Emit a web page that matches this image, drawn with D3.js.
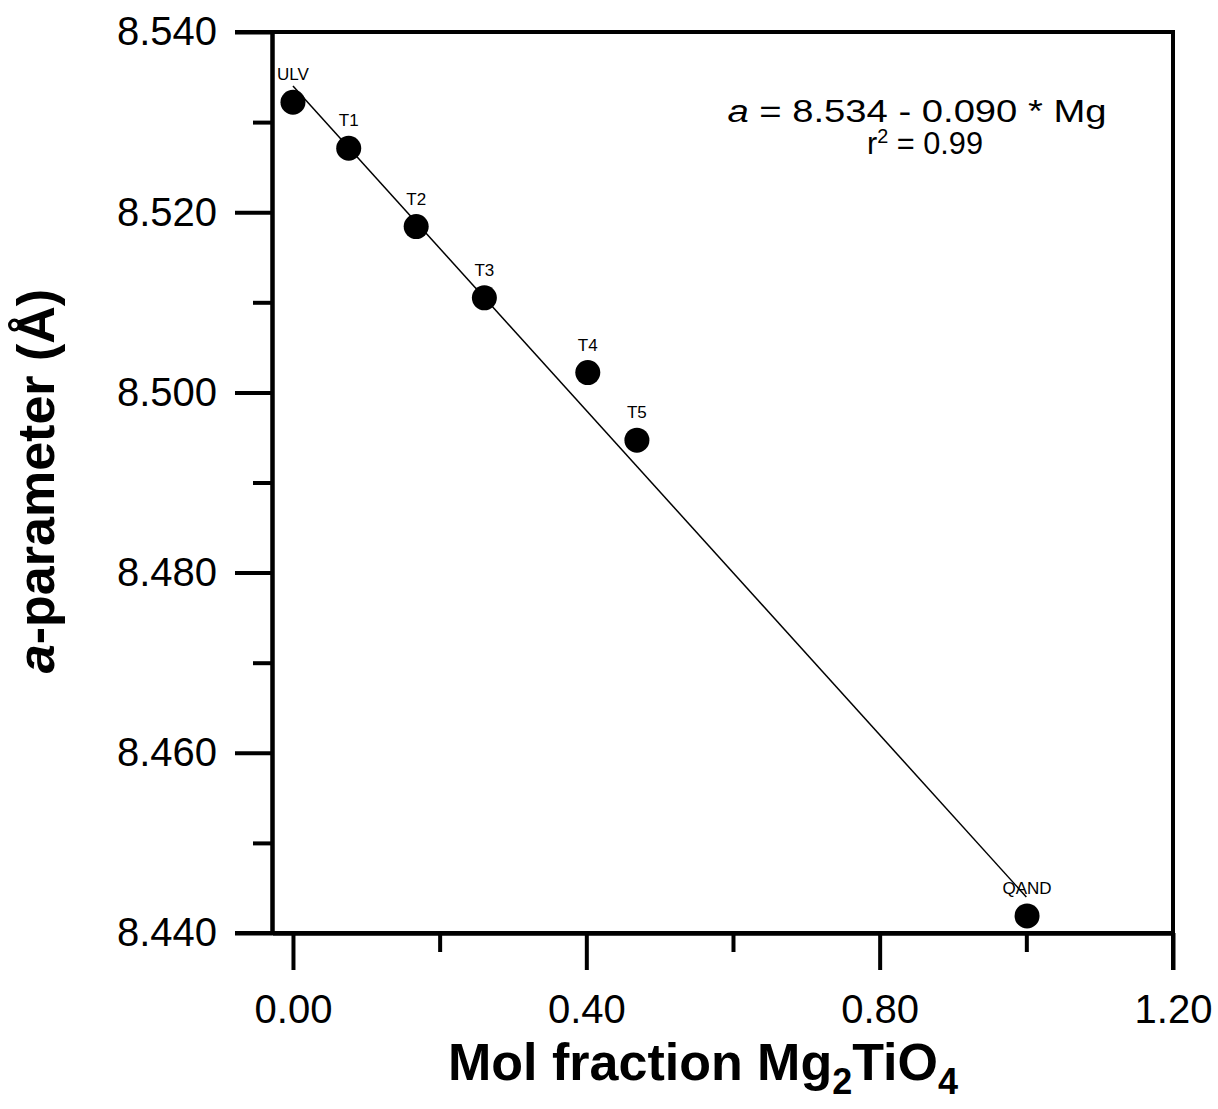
<!DOCTYPE html>
<html>
<head>
<meta charset="utf-8">
<script src="https://cdn.jsdelivr.net/npm/d3@7"></script>
<style>
  body { margin: 0; background: #fff; }
  text { font-family: "Liberation Sans", Arial, sans-serif; }
</style>
</head>
<body>
<div class="chart"></div>
<script>
var width = 1218;
var height = 1109;

// samples, Mg2TiO4 mol fraction, a-parameter (A)
var names = ['ULV', 'T1', 'T2', 'T3', 'T4', 'T5', 'QAND'];
var molFrac = [0.000, 0.076, 0.168, 0.261, 0.402, 0.469, 1.001];
var aParam = [8.5322, 8.5271, 8.5184, 8.5105, 8.5022, 8.4947, 8.4419];

// regression line a = 8.534 - 0.090 * Mg, end points
var fitX = [0, 1.0];
var fitY = [8.534, 8.444];

var xMajor = [0, 0.4, 0.8, 1.2];
var xMinor = [0.2, 0.6, 1.0];
var yMajor = [8.44, 8.46, 8.48, 8.50, 8.52, 8.54];
var yMinor = [8.45, 8.47, 8.49, 8.51, 8.53];

var pLeft = 272, pRight = 1173, pTop = 32, pBottom = 933;

var x = d3.scaleLinear().domain([-0.0286, 1.2]).range([pLeft, pRight]);
var y = d3.scaleLinear().domain([8.44, 8.54]).range([pBottom, pTop]);

var svg = d3.select('.chart').append('svg')
  .attr('width', width)
  .attr('height', height);

// frame: top and right lines
svg.append('path')
  .attr('d', `M${pLeft - 37},${pTop}H${pRight}V${pBottom + 37}`)
  .attr('fill', 'none')
  .attr('stroke', '#000')
  .attr('stroke-width', 4);

// y axis
svg.append('g')
  .attr('transform', `translate(${pLeft},0)`)
  .call(d3.axisLeft(y).tickValues(yMajor).tickSize(37).tickSizeOuter(0).tickPadding(18)
    .tickFormat(d3.format('.3f')));

svg.append('g')
  .attr('transform', `translate(${pLeft},0)`)
  .call(d3.axisLeft(y).tickValues(yMinor).tickSize(19).tickSizeOuter(0).tickFormat(''));

// x axis
svg.append('g')
  .attr('transform', `translate(0,${pBottom})`)
  .call(d3.axisBottom(x).tickValues(xMajor).tickSize(37).tickSizeOuter(0).tickPadding(25)
    .tickFormat(d3.format('.2f')));

svg.append('g')
  .attr('transform', `translate(0,${pBottom})`)
  .call(d3.axisBottom(x).tickValues(xMinor).tickSize(19).tickSizeOuter(0).tickFormat(''));

svg.selectAll('.domain, .tick line')
  .attr('stroke', '#000')
  .attr('stroke-width', 4);

svg.selectAll('.tick text')
  .attr('fill', '#000')
  .style('font-size', '40px');

// extend bottom line to the 8.440 tick
svg.append('line')
  .attr('x1', pLeft - 37).attr('x2', pRight)
  .attr('y1', pBottom).attr('y2', pBottom)
  .attr('stroke', '#000').attr('stroke-width', 4);

// fit line
svg.append('line')
  .attr('x1', x(fitX[0])).attr('y1', y(fitY[0]))
  .attr('x2', x(fitX[1])).attr('y2', y(fitY[1]))
  .attr('stroke', '#000')
  .attr('stroke-width', 1.5);

var pts = names.map((n, i) => ({name: n, mg: molFrac[i], a: aParam[i]}));

svg.selectAll('circle.pt')
  .data(pts)
  .enter().append('circle')
  .attr('class', 'pt')
  .attr('cx', d => x(d.mg))
  .attr('cy', d => y(d.a))
  .attr('r', 12.5)
  .attr('fill', '#000');

svg.selectAll('text.lab')
  .data(pts)
  .enter().append('text')
  .attr('class', 'lab')
  .attr('x', d => x(d.mg))
  .attr('y', d => y(d.a) - 22)
  .attr('text-anchor', 'middle')
  .style('font-size', '17px')
  .text(d => d.name);

// equation
var eq = svg.append('text')
  .attr('x', 917)
  .attr('y', 122)
  .attr('text-anchor', 'middle')
  .style('font-size', '31px')
  .attr('textLength', 379)
  .attr('lengthAdjust', 'spacingAndGlyphs');
eq.append('tspan').style('font-style', 'italic').text('a');
eq.append('tspan').text(' = 8.534 - 0.090 * Mg');

var r2 = svg.append('text')
  .attr('x', 925)
  .attr('y', 154)
  .attr('text-anchor', 'middle')
  .style('font-size', '31px')
  .attr('textLength', 116)
  .attr('lengthAdjust', 'spacingAndGlyphs');
r2.append('tspan').text('r');
r2.append('tspan').attr('dy', -11).style('font-size', '20px').text('2');
r2.append('tspan').attr('dy', 11).text(' = 0.99');

// x title
var xt = svg.append('text')
  .attr('x', 703)
  .attr('y', 1080)
  .attr('text-anchor', 'middle')
  .style('font-size', '52px')
  .style('font-weight', 'bold');
xt.append('tspan').text('Mol fraction Mg');
xt.append('tspan').attr('dy', 14).style('font-size', '36px').text('2');
xt.append('tspan').attr('dy', -14).text('TiO');
xt.append('tspan').attr('dy', 14).style('font-size', '36px').text('4');

// y title
var yt = svg.append('text')
  .attr('transform', 'translate(54,481) rotate(-90)')
  .attr('text-anchor', 'middle')
  .style('font-size', '52px')
  .style('font-weight', 'bold');
yt.append('tspan').style('font-style', 'italic').text('a');
yt.append('tspan').text('-parameter (Å)');
</script>
</body>
</html>
